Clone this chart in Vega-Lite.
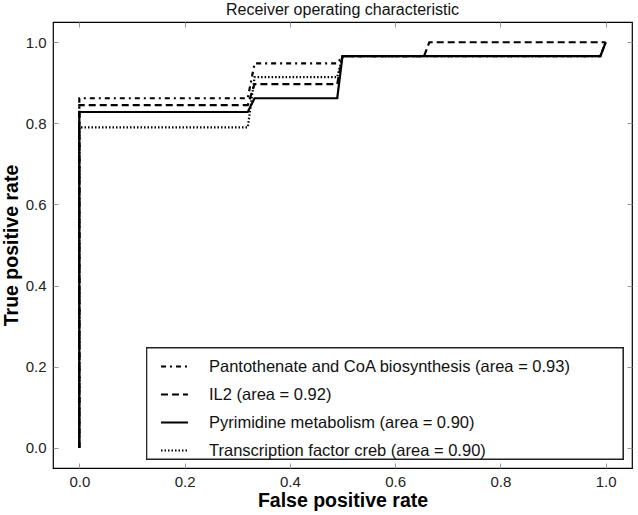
{
  "$schema": "https://vega.github.io/schema/vega-lite/v6.json",
  "width": 579,
  "height": 446,
  "autosize": {"type": "none"},
  "padding": {"left": 53, "top": 22, "right": 6, "bottom": 47},
  "background": "white",
  "config": {
    "font": "Liberation Sans",
    "view": {"stroke": "#000", "strokeWidth": 1.2},
    "axis": {
      "grid": false,
      "domain": false,
      "tickSize": -5,
      "tickColor": "#999",
      "labelFont": "Liberation Sans",
      "labelFontSize": 15,
      "labelColor": "#222",
      "titleFont": "Liberation Sans",
      "titleFontSize": 19.5,
      "titleFontWeight": "bold",
      "titleColor": "#000"
    }
  },
  "title": {
    "text": "Receiver operating characteristic",
    "fontSize": 16,
    "fontWeight": "normal",
    "font": "Liberation Sans",
    "color": "#111",
    "anchor": "middle",
    "offset": 4
  },
  "data": {
    "values": [
      {"series": "Pantothenate and CoA biosynthesis (area = 0.93)", "ord": 1, "fpr": 0, "tpr": 0},
      {"series": "Pantothenate and CoA biosynthesis (area = 0.93)", "ord": 2, "fpr": 0, "tpr": 0.862},
      {"series": "Pantothenate and CoA biosynthesis (area = 0.93)", "ord": 3, "fpr": 0.32, "tpr": 0.862},
      {"series": "Pantothenate and CoA biosynthesis (area = 0.93)", "ord": 4, "fpr": 0.333, "tpr": 0.948},
      {"series": "Pantothenate and CoA biosynthesis (area = 0.93)", "ord": 5, "fpr": 0.49, "tpr": 0.948},
      {"series": "Pantothenate and CoA biosynthesis (area = 0.93)", "ord": 6, "fpr": 0.5, "tpr": 0.966},
      {"series": "Pantothenate and CoA biosynthesis (area = 0.93)", "ord": 7, "fpr": 0.99, "tpr": 0.966},
      {"series": "Pantothenate and CoA biosynthesis (area = 0.93)", "ord": 8, "fpr": 1, "tpr": 1},
      {"series": "IL2 (area = 0.92)", "ord": 1, "fpr": 0, "tpr": 0},
      {"series": "IL2 (area = 0.92)", "ord": 2, "fpr": 0, "tpr": 0.845},
      {"series": "IL2 (area = 0.92)", "ord": 3, "fpr": 0.32, "tpr": 0.845},
      {"series": "IL2 (area = 0.92)", "ord": 4, "fpr": 0.333, "tpr": 0.897},
      {"series": "IL2 (area = 0.92)", "ord": 5, "fpr": 0.49, "tpr": 0.897},
      {"series": "IL2 (area = 0.92)", "ord": 6, "fpr": 0.5, "tpr": 0.966},
      {"series": "IL2 (area = 0.92)", "ord": 7, "fpr": 0.655, "tpr": 0.966},
      {"series": "IL2 (area = 0.92)", "ord": 8, "fpr": 0.665, "tpr": 1},
      {"series": "IL2 (area = 0.92)", "ord": 9, "fpr": 1, "tpr": 1},
      {"series": "Pyrimidine metabolism (area = 0.90)", "ord": 1, "fpr": 0, "tpr": 0},
      {"series": "Pyrimidine metabolism (area = 0.90)", "ord": 2, "fpr": 0, "tpr": 0.828},
      {"series": "Pyrimidine metabolism (area = 0.90)", "ord": 3, "fpr": 0.32, "tpr": 0.828},
      {"series": "Pyrimidine metabolism (area = 0.90)", "ord": 4, "fpr": 0.333, "tpr": 0.862},
      {"series": "Pyrimidine metabolism (area = 0.90)", "ord": 5, "fpr": 0.49, "tpr": 0.862},
      {"series": "Pyrimidine metabolism (area = 0.90)", "ord": 6, "fpr": 0.5, "tpr": 0.966},
      {"series": "Pyrimidine metabolism (area = 0.90)", "ord": 7, "fpr": 0.99, "tpr": 0.966},
      {"series": "Pyrimidine metabolism (area = 0.90)", "ord": 8, "fpr": 1, "tpr": 1},
      {"series": "Transcription factor creb (area = 0.90)", "ord": 1, "fpr": 0, "tpr": 0},
      {"series": "Transcription factor creb (area = 0.90)", "ord": 2, "fpr": 0, "tpr": 0.79},
      {"series": "Transcription factor creb (area = 0.90)", "ord": 3, "fpr": 0.32, "tpr": 0.79},
      {"series": "Transcription factor creb (area = 0.90)", "ord": 4, "fpr": 0.333, "tpr": 0.914},
      {"series": "Transcription factor creb (area = 0.90)", "ord": 5, "fpr": 0.49, "tpr": 0.914},
      {"series": "Transcription factor creb (area = 0.90)", "ord": 6, "fpr": 0.5, "tpr": 0.966},
      {"series": "Transcription factor creb (area = 0.90)", "ord": 7, "fpr": 0.99, "tpr": 0.966},
      {"series": "Transcription factor creb (area = 0.90)", "ord": 8, "fpr": 1, "tpr": 1}
    ]
  },
  "layer": [
    {
      "mark": {"type": "line", "strokeWidth": 0, "opacity": 0, "clip": true},
      "encoding": {
        "x": {
          "field": "fpr", "type": "quantitative",
          "scale": {"domain": [-0.05, 1.05], "nice": false, "zero": false},
          "axis": {"orient": "top", "values": [0, 0.2, 0.4, 0.6, 0.8, 1.0], "labels": false, "title": null}
        },
        "y": {
          "field": "tpr", "type": "quantitative",
          "scale": {"domain": [-0.05, 1.05], "nice": false, "zero": false},
          "axis": {"orient": "right", "values": [0, 0.2, 0.4, 0.6, 0.8, 1.0], "labels": false, "title": null}
        },
        "detail": {"field": "series"},
        "order": {"field": "ord"}
      }
    },
    {
      "mark": {"type": "rect", "fill": "white", "stroke": "#222", "strokeWidth": 1.2},
      "encoding": {
        "x": {"datum": 0.128, "type": "quantitative", "axis": null},
        "x2": {"datum": 1.033},
        "y": {"datum": 0.246, "type": "quantitative", "axis": null},
        "y2": {"datum": -0.028}
      }
    },
    {
      "mark": {"type": "line", "strokeWidth": 2.2, "color": "#000", "clip": true},
      "encoding": {
        "x": {
          "field": "fpr", "type": "quantitative",
          "scale": {"domain": [-0.05, 1.05], "nice": false, "zero": false},
          "axis": {"orient": "bottom", "values": [0, 0.2, 0.4, 0.6, 0.8, 1.0], "format": ".1f", "title": "False positive rate", "labelPadding": 11, "titlePadding": 2}
        },
        "y": {
          "field": "tpr", "type": "quantitative",
          "scale": {"domain": [-0.05, 1.05], "nice": false, "zero": false},
          "axis": {"orient": "left", "values": [0, 0.2, 0.4, 0.6, 0.8, 1.0], "format": ".1f", "title": "True positive rate", "labelPadding": 12, "titlePadding": 4}
        },
        "order": {"field": "ord"},
        "strokeDash": {
          "field": "series", "type": "nominal",
          "scale": {
            "domain": ["Pantothenate and CoA biosynthesis (area = 0.93)", "IL2 (area = 0.92)", "Pyrimidine metabolism (area = 0.90)", "Transcription factor creb (area = 0.90)"],
            "range": [[5, 4, 2, 4], [7, 4], [1, 0], [1.5, 2]]
          },
          "legend": {
            "title": null,
            "orient": "none",
            "legendX": 103,
            "legendY": 326,
            "padding": 4,
            "symbolType": "stroke",
            "symbolSize": 729,
            "symbolStrokeWidth": 2,
            "symbolStrokeColor": "#000",
            "labelFontSize": 16.5,
            "labelColor": "#111",
            "labelOffset": 20,
            "rowPadding": 5,
            "labelLimit": 700
          }
        }
      }
    }
  ],
  "resolve": {"axis": {"x": "independent", "y": "independent"}}
}
